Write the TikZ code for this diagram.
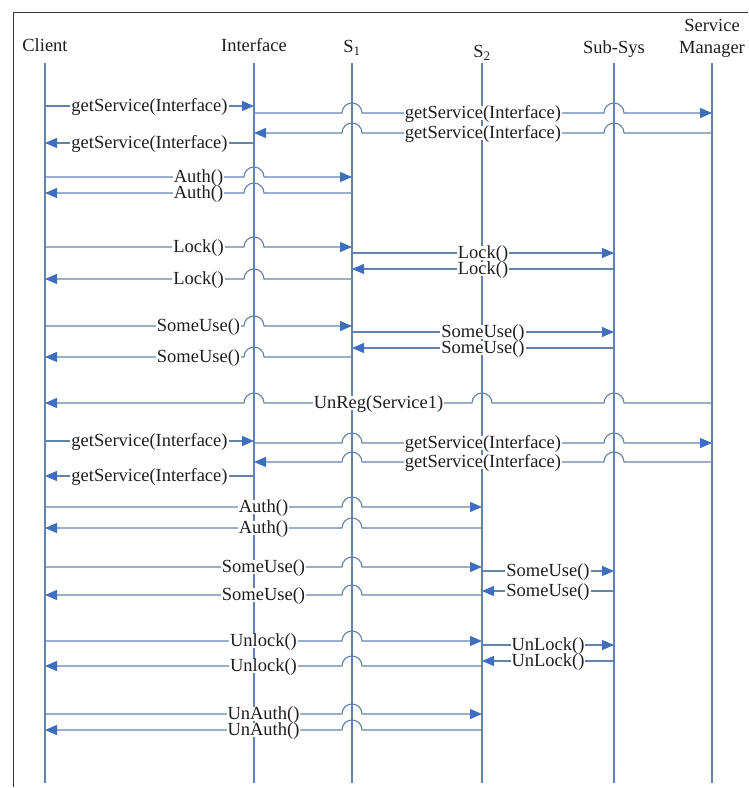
\documentclass[tikz,border=0pt]{standalone}
\usepackage{fontspec}
\setmainfont{Liberation Serif}
\usetikzlibrary{arrows.meta}
\definecolor{lc}{RGB}{100,130,172}
\definecolor{ac}{RGB}{62,110,190}
\definecolor{tc}{RGB}{30,30,30}
\begin{document}
\begin{tikzpicture}[x=1pt,y=1pt,
  frame/.style={draw=black!80,line width=0.9pt},
  lifeline/.style={draw=lc,line width=1.1pt},
  msg/.style={draw=lc,line width=1.1pt},
  tip/.style={msg,-{Triangle[length=12pt,width=10pt,color=ac]}},
  lbl/.style={fill=white,inner xsep=1pt,inner ysep=0.5pt,text height=12pt,text depth=1pt,
              text=tc,font=\fontsize{18.5}{22}\selectfont},
  head/.style={anchor=base,text=tc,inner sep=0pt,font=\fontsize{18.5}{22}\selectfont}]
\useasboundingbox (0,0) rectangle (748,788);

% outer frame
\draw[frame] (13,1) -- (13,776) -- (748,776);

% participants
\node[head] (client) at (45,736) {Client};
\node[head] (iface)  at (254,736) {Interface};
\node[head] (s1)     at (352,735) {S\textsubscript{1}};
\node[head] (s2)     at (482,730) {S\textsubscript{2}};
\node[head] (subsys) at (614,734) {Sub-Sys};
\node[head] (mgr)    at (712,734) {\begin{tabular}[b]{@{}c@{}}Service\\Manager\end{tabular}};

% lifelines
\foreach \n/\x in {c/45,i/254,a/352,b/482,u/614,m/712}{
  \coordinate (\n T) at (\x,725);
  \coordinate (\n B) at (\x,5);
  \draw[lifeline] (\n T) -- (\n B);
}

% ---- first service lookup ----
\draw[tip] (45,682) -- (254,682);
\draw[tip] (254,675) -- (342,675) arc[start angle=180,end angle=0,radius=10] -- (604,675) arc[start angle=180,end angle=0,radius=10] -- (712,675);
\draw[tip] (712,655) -- (624,655) arc[start angle=0,end angle=180,radius=10] -- (362,655) arc[start angle=0,end angle=180,radius=10] -- (254,655);
\draw[tip] (254,645) -- (45,645);

% ---- S1 session ----
\draw[tip] (45,611) -- (244,611) arc[start angle=180,end angle=0,radius=10] -- (352,611);
\draw[tip] (352,595) -- (264,595) arc[start angle=0,end angle=180,radius=10] -- (45,595);

\draw[tip] (45,541) -- (244,541) arc[start angle=180,end angle=0,radius=10] -- (352,541);
\draw[tip] (352,535) -- (614,535);
\draw[tip] (614,519) -- (352,519);
\draw[tip] (352,509) -- (264,509) arc[start angle=0,end angle=180,radius=10] -- (45,509);

\draw[tip] (45,462) -- (244,462) arc[start angle=180,end angle=0,radius=10] -- (352,462);
\draw[tip] (352,456) -- (614,456);
\draw[tip] (614,440) -- (352,440);
\draw[tip] (352,431) -- (264,431) arc[start angle=0,end angle=180,radius=10] -- (45,431);

% ---- unregister ----
\draw[tip] (712,385) -- (624,385) arc[start angle=0,end angle=180,radius=10] -- (492,385) arc[start angle=0,end angle=180,radius=10] -- (264,385) arc[start angle=0,end angle=180,radius=10] -- (45,385);

% ---- second service lookup ----
\draw[tip] (45,347) -- (254,347);
\draw[tip] (254,345) -- (342,345) arc[start angle=180,end angle=0,radius=10] -- (604,345) arc[start angle=180,end angle=0,radius=10] -- (712,345);
\draw[tip] (712,326) -- (624,326) arc[start angle=0,end angle=180,radius=10] -- (362,326) arc[start angle=0,end angle=180,radius=10] -- (254,326);
\draw[tip] (254,312) -- (45,312);

% ---- S2 session ----
\draw[tip] (45,281) -- (342,281) arc[start angle=180,end angle=0,radius=10] -- (482,281);
\draw[tip] (482,260) -- (362,260) arc[start angle=0,end angle=180,radius=10] -- (45,260);

\draw[tip] (45,221) -- (342,221) arc[start angle=180,end angle=0,radius=10] -- (482,221);
\draw[tip] (482,217) -- (614,217);
\draw[tip] (614,197) -- (482,197);
\draw[tip] (482,193) -- (362,193) arc[start angle=0,end angle=180,radius=10] -- (45,193);

\draw[tip] (45,147) -- (342,147) arc[start angle=180,end angle=0,radius=10] -- (482,147);
\draw[tip] (482,143) -- (614,143);
\draw[tip] (614,127) -- (482,127);
\draw[tip] (482,122) -- (362,122) arc[start angle=0,end angle=180,radius=10] -- (45,122);

\draw[tip] (45,74) -- (342,74) arc[start angle=180,end angle=0,radius=10] -- (482,74);
\draw[tip] (482,58) -- (362,58) arc[start angle=0,end angle=180,radius=10] -- (45,58);

% ---- message labels ----
\node[lbl] (l1)  at (149.5,682) {getService(Interface)};
\node[lbl] (l2)  at (483,675)   {getService(Interface)};
\node[lbl] (l3)  at (483,655)   {getService(Interface)};
\node[lbl] (l4)  at (149.5,645) {getService(Interface)};
\node[lbl] (l5)  at (198.5,611) {Auth()};
\node[lbl] (l6)  at (198.5,595) {Auth()};
\node[lbl] (l7)  at (198.5,541) {Lock()};
\node[lbl] (l8)  at (483,535)   {Lock()};
\node[lbl] (l9)  at (483,519)   {Lock()};
\node[lbl] (l10) at (198.5,509) {Lock()};
\node[lbl] (l11) at (198.5,462) {SomeUse()};
\node[lbl] (l12) at (483,456)   {SomeUse()};
\node[lbl] (l13) at (483,440)   {SomeUse()};
\node[lbl] (l14) at (198.5,431) {SomeUse()};
\node[lbl] (l15) at (378.5,385) {UnReg(Service1)};
\node[lbl] (l16) at (149.5,347) {getService(Interface)};
\node[lbl] (l17) at (483,345)   {getService(Interface)};
\node[lbl] (l18) at (483,326)   {getService(Interface)};
\node[lbl] (l19) at (149.5,312) {getService(Interface)};
\node[lbl] (l20) at (263.5,281) {Auth()};
\node[lbl] (l21) at (263.5,260) {Auth()};
\node[lbl] (l22) at (263.5,221) {SomeUse()};
\node[lbl] (l23) at (548,217)   {SomeUse()};
\node[lbl] (l24) at (548,197)   {SomeUse()};
\node[lbl] (l25) at (263.5,193) {SomeUse()};
\node[lbl] (l26) at (263.5,147) {Unlock()};
\node[lbl] (l27) at (548,143)   {UnLock()};
\node[lbl] (l28) at (548,127)   {UnLock()};
\node[lbl] (l29) at (263.5,122) {Unlock()};
\node[lbl] (l30) at (263.5,74)  {UnAuth()};
\node[lbl] (l31) at (263.5,58)  {UnAuth()};
\end{tikzpicture}
\end{document}
